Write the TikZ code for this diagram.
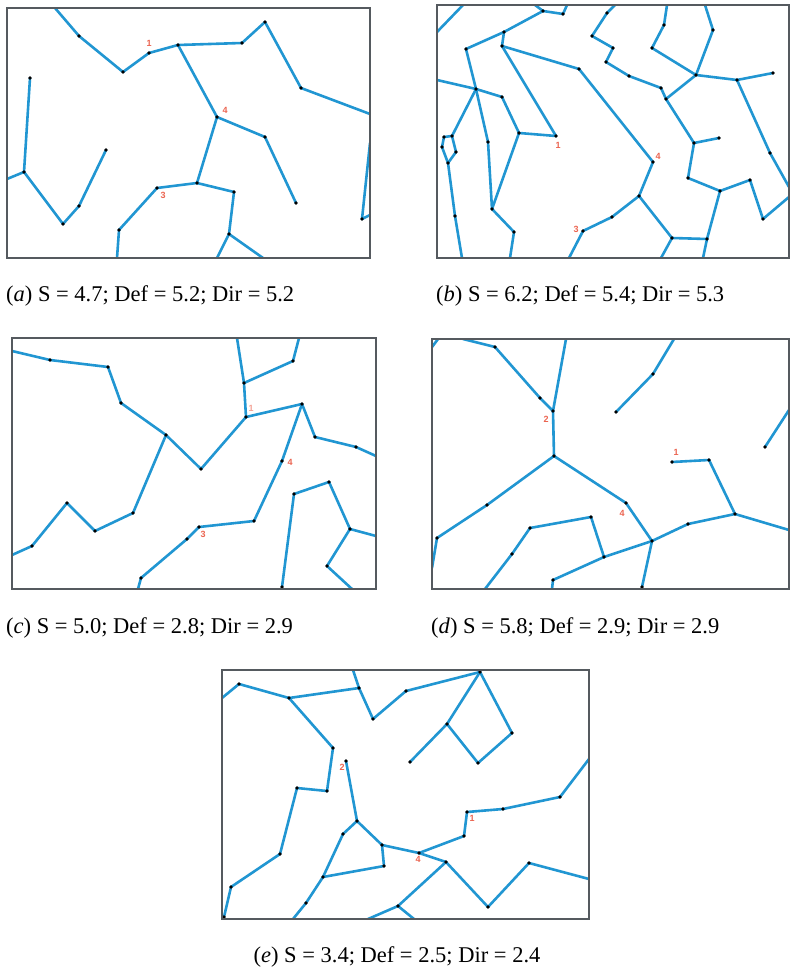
\documentclass[tikz,border=0pt]{standalone}
\usepackage{fontspec}
\setmainfont{Liberation Serif}
\setsansfont{Liberation Sans}
\definecolor{netblue}{RGB}{33,150,210}
\definecolor{boxgray}{RGB}{85,90,95}
\definecolor{tagred}{RGB}{235,100,80}
\begin{document}
\begin{tikzpicture}[x=1pt,y=-1pt,
    link/.style={netblue,line width=2.6pt,line cap=round,line join=round},
    junction/.style={black},
    panel/.style={boxgray,line width=1.5pt},
    tag/.style={text=tagred,font=\fontsize{9}{9}\sffamily\bfseries,inner sep=0pt},
    caption/.style={font=\fontsize{22.5}{24}\selectfont,inner sep=0pt,anchor=west}]
  \useasboundingbox (0,0) rectangle (791,973);

  % ---- (a) ----
  \foreach \n/\x/\y in {a1/79/36,a2/123/72,a3/149/53,a4/178/45,a5/242/43,a6/265/22,a7/301/88,
      a8/217/117,a9/265/137,a10/296/203,a11/197/183,a12/157/188,a13/119/230,a14/234/192,
      a15/229/234,a16/30/78,a17/24/172,a18/63/224,a19/79/206,a20/106/150,a21/362/219,
      ab1/55/8,ab2/370/114,ab3/117/258,ab4/217/258,ab5/263/258,ab6/7/179,ab7/370/143,ab8/370/215}
    \coordinate (\n) at (\x,\y);
  \begin{scope}
    \clip (7,8) rectangle (370,258);
    \foreach \u/\v in {ab1/a1,a1/a2,a2/a3,a3/a4,a4/a5,a5/a6,a6/a7,a7/ab2,a4/a8,a8/a9,a9/a10,
        a8/a11,a11/a12,a12/a13,a13/ab3,a11/a14,a14/a15,a15/ab4,a15/ab5,a16/a17,a17/ab6,
        a17/a18,a18/a19,a19/a20,ab7/a21,a21/ab8}
      \draw[link] (\u) -- (\v);
    \foreach \i in {1,...,21}
      \fill[junction] (a\i) circle (1.8);
  \end{scope}
  \draw[panel] (7,8) rectangle (370,258);
  \node[tag] (ta1) at (149,43) {1};
  \node[tag] (ta4) at (225,110) {4};
  \node[tag] (ta3) at (163,195) {3};
  \node[caption] (capa) at (6,296) {(\textit{a}) S = 4.7; Def = 5.2; Dir = 5.2};

  % ---- (b) ----
  \foreach \n/\x/\y in {b1/466/49,b2/504/32,b3/543/11,b4/563/14,b5/502/46,b6/579/69,b7/653/162,
      b8/639/196,b9/612/217,b10/583/231,b11/556/136,b12/519/133,b13/502/97,b14/476/89,
      b15/492/209,b16/514/232,b17/488/142,b18/444/137,b19/452/136,b20/456/152,b21/448/163,
      b22/442/147,b23/455/216,b24/607/13,b25/592/36,b26/613/48,b27/606/62,b28/629/76,
      b29/661/88,b30/666/99,b31/694/143,b32/719/138,b33/688/178,b34/720/191,b35/750/180,
      b36/763/219,b37/707/239,b38/672/238,b39/696/75,b40/737/80,b41/773/73,b42/770/153,
      b43/652/48,b44/664/25,b45/713/30,
      bb1/437/32,bb2/463/5,bb3/535/5,bb4/567/5,bb5/569/258,bb6/510/258,bb7/437/80,bb8/462/258,
      bb9/615/5,bb10/789/197,bb11/661/258,bb12/703/258,bb13/789/187,bb14/667/5,bb15/705/5}
    \coordinate (\n) at (\x,\y);
  \begin{scope}
    \clip (437,5) rectangle (789,258);
    \foreach \u/\v in {bb1/bb2,b1/b2,b2/b3,bb3/b3,b3/b4,b4/bb4,b2/b5,b5/b6,b6/b7,b7/b8,b8/b9,
        b9/b10,b10/bb5,b5/b11,b11/b12,b12/b13,b13/b14,b12/b15,b15/b16,b16/bb6,b1/b14,b14/b17,
        b17/b15,bb7/b14,b14/b19,b18/b19,b19/b20,b20/b21,b21/b22,b22/b18,b21/b23,b23/bb8,
        bb9/b24,b24/b25,b25/b26,b26/b27,b27/b28,b28/b29,b29/b30,b30/b31,b31/b32,b31/b33,
        b33/b34,b34/b35,b35/b36,b36/bb10,b34/b37,b37/b38,b38/b8,b38/bb11,b37/bb12,b30/b39,
        b39/b40,b40/b41,b40/b42,b42/bb13,b39/b43,b43/b44,b44/bb14,b39/b45,b45/bb15}
      \draw[link] (\u) -- (\v);
    \foreach \i in {1,...,45}
      \fill[junction] (b\i) circle (1.8);
  \end{scope}
  \draw[panel] (437,5) rectangle (789,258);
  \node[tag] (tb1) at (558,145) {1};
  \node[tag] (tb4) at (658,156) {4};
  \node[tag] (tb3) at (576,229) {3};
  \node[caption] (capb) at (436,296) {(\textit{b}) S = 6.2; Def = 5.4; Dir = 5.3};

  % ---- (c) ----
  \foreach \n/\x/\y in {c1/50/360,c2/108/367,c3/121/403,c4/166/435,c5/201/469,c6/246/417,
      c7/302/404,c8/315/437,c9/356/447,c10/244/383,c11/293/361,c12/133/513,c13/95/531,
      c14/67/503,c15/32/546,c16/282/461,c17/254/521,c18/199/527,c19/187/539,c20/141/578,
      c21/294/494,c22/329/482,c23/350/529,c24/327/566,c25/282/587,
      cb1/12/351,cb2/376/456,cb3/237/338,cb4/299/338,cb5/12/555,cb6/138/589,cb8/376/536,cb9/352/589}
    \coordinate (\n) at (\x,\y);
  \begin{scope}
    \clip (12,338) rectangle (376,589);
    \foreach \u/\v in {cb1/c1,c1/c2,c2/c3,c3/c4,c4/c5,c5/c6,c6/c7,c7/c8,c8/c9,c9/cb2,c6/c10,
        c10/cb3,c10/c11,c11/cb4,c4/c12,c12/c13,c13/c14,c14/c15,c15/cb5,c7/c16,c16/c17,
        c17/c18,c18/c19,c19/c20,c20/cb6,c21/c25,c21/c22,c22/c23,c23/cb8,c23/c24,c24/cb9}
      \draw[link] (\u) -- (\v);
    \foreach \i in {1,...,25}
      \fill[junction] (c\i) circle (1.8);
  \end{scope}
  \draw[panel] (12,338) rectangle (376,589);
  \node[tag,opacity=.6] (tc1) at (251,408) {1};
  \node[tag] (tc4) at (290,462) {4};
  \node[tag] (tc3) at (203,534) {3};
  \node[caption] (capc) at (6,628) {(\textit{c}) S = 5.0; Def = 2.8; Dir = 2.9};

  % ---- (d) ----
  \foreach \n/\x/\y in {d1/495/347,d2/540/398,d3/553/411,d4/554/456,d5/487/505,d6/437/538,
      d7/626/503,d8/652/541,d9/604/557,d10/591/517,d11/530/528,d12/512/554,d13/553/580,
      d14/688/524,d15/735/514,d16/709/460,d17/672/462,d18/616/412,d19/653/374,d20/765/447,
      d21/642/587,
      db1/432/347,db2/438/339,db3/463/339,db4/566/339,db5/432/568,db6/485/589,db7/552/589,
      db8/789/530,db9/674/339,db10/789/410}
    \coordinate (\n) at (\x,\y);
  \begin{scope}
    \clip (432,339) rectangle (789,589);
    \foreach \u/\v in {db1/db2,db3/d1,d1/d2,d2/d3,d3/db4,d3/d4,d4/d5,d5/d6,d6/db5,d4/d7,d7/d8,
        d8/d21,d8/d9,d9/d10,d10/d11,d11/d12,d12/db6,d9/d13,d13/db7,d8/d14,d14/d15,d15/db8,
        d15/d16,d16/d17,d18/d19,d19/db9,d20/db10}
      \draw[link] (\u) -- (\v);
    \foreach \i in {1,...,21}
      \fill[junction] (d\i) circle (1.8);
  \end{scope}
  \draw[panel] (432,339) rectangle (789,589);
  \node[tag] (td2) at (546,419) {2};
  \node[tag] (td1) at (676,452) {1};
  \node[tag] (td4) at (622,513) {4};
  \node[caption] (capd) at (431,628) {(\textit{d}) S = 5.8; Def = 2.9; Dir = 2.9};

  % ---- (e) ----
  \foreach \n/\x/\y in {e1/239/684,e2/289/698,e3/359/688,e4/373/719,e5/406/691,e6/480/672,
      e7/447/724,e8/410/762,e9/478/763,e10/512/733,e11/333/748,e12/327/791,e13/297/788,
      e14/280/854,e15/231/887,e16/224/917,e17/346/761,e18/357/821,e19/382/845,e20/419/853,
      e21/464/836,e22/467/812,e23/503/809,e24/560/797,e25/343/834,e26/323/877,e27/306/903,
      e28/384/866,e29/446/862,e30/398/906,e31/488/907,e32/529/863,
      eb1/222/698,eb2/353/670,eb3/589/759,eb4/293/919,eb5/368/919,eb6/414/919,eb7/589/879}
    \coordinate (\n) at (\x,\y);
  \begin{scope}
    \clip (222,670) rectangle (589,919);
    \foreach \u/\v in {eb1/e1,e1/e2,e2/e3,e3/eb2,e3/e4,e4/e5,e5/e6,e6/e7,e7/e8,e7/e9,e9/e10,
        e10/e6,e2/e11,e11/e12,e12/e13,e13/e14,e14/e15,e15/e16,e17/e18,e18/e19,e19/e20,
        e20/e21,e21/e22,e22/e23,e23/e24,e24/eb3,e18/e25,e25/e26,e26/e27,e27/eb4,e26/e28,
        e28/e19,e20/e29,e29/e30,e30/eb5,e30/eb6,e29/e31,e31/e32,e32/eb7}
      \draw[link] (\u) -- (\v);
    \foreach \i in {1,...,32}
      \fill[junction] (e\i) circle (1.8);
  \end{scope}
  \draw[panel] (222,670) rectangle (589,919);
  \node[tag] (te2) at (342,767) {2};
  \node[tag] (te1) at (472,818) {1};
  \node[tag] (te4) at (418,859) {4};
  \node[caption,anchor=center] (cape) at (397,957) {(\textit{e}) S = 3.4; Def = 2.5; Dir = 2.4};
\end{tikzpicture}
\end{document}
